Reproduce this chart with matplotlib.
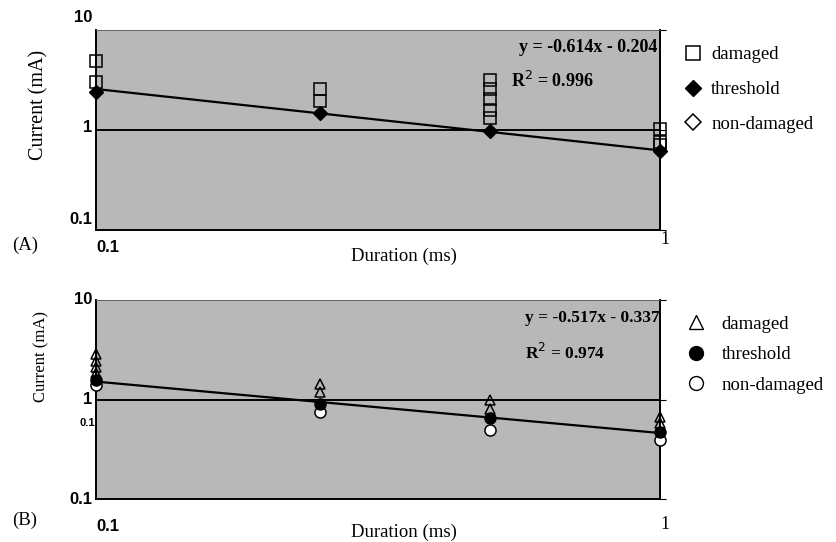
import matplotlib
matplotlib.use('Agg')
import numpy as np
import matplotlib.pyplot as plt
from matplotlib.lines import Line2D
import matplotlib.transforms as mtrans

SERIF = 'Liberation Serif'
SANS = 'Liberation Sans'
BG = '#b8b8b8'

# panel A (square / diamond markers)
a_dmg_x = [0.1, 0.1, 0.25, 0.25, 0.5, 0.5, 0.5, 0.5, 0.5, 1.0, 1.0, 1.0]
a_dmg_y = [4.9, 3.0, 2.55, 1.95, 3.16, 2.55, 2.03, 1.58, 1.31, 1.02, 0.76, 0.71]
a_thr_x = [0.1, 0.25, 0.5, 1.0]
a_thr_y = [2.4, 1.47, 0.97, 0.62]
a_non_x = []
a_non_y = []
a_fit = (-0.614, -0.204, 0.996)

# panel B (triangle / circle markers)
b_dmg_x = [0.1, 0.1, 0.1, 0.1, 0.25, 0.25, 0.5, 0.5, 1.0, 1.0]
b_dmg_y = [2.88, 2.45, 2.1, 1.85, 1.44, 1.19, 1.0, 0.81, 0.67, 0.58]
b_thr_x = [0.1, 0.25, 0.5, 1.0]
b_thr_y = [1.56, 0.91, 0.645, 0.47]
b_non_x = [0.1, 0.25, 0.5, 1.0]
b_non_y = [1.39, 0.75, 0.49, 0.39]
b_fit = (-0.517, -0.337, 0.974)

labels = ['damaged', 'threshold', 'non-damaged']
y_ticks = [10, 1, 0.1]
y_tick_txt = ['10', '1', '0.1']


def fit_line(ax, slope, icpt):
    # trend line from the printed regression, log10(I) = a*log10(t) + b
    t = np.array([0.1, 1.0])
    ax.plot(t, 10 ** (slope * np.log10(t) + icpt), color='black', lw=1.6, zorder=3)


def setup_axes(ax, ylab_size, ylab_pos, xlab_y, ytick_shift, xtick_y):
    ax.set_xscale('log')
    ax.set_yscale('log')
    ax.set_xlim(0.1, 1)
    ax.set_ylim(0.1, 10)
    ax.set_facecolor(BG)
    ax.minorticks_off()
    ax.set_xticks([])
    ax.set_yticks([0.1, 1, 10], ['', '', ''])
    ax.tick_params(axis='y', which='both', right=True, left=False, direction='out', length=4)
    for s in ['left', 'right', 'bottom']:
        ax.spines[s].set_linewidth(1.4)
    ax.spines['top'].set_linewidth(0.6)
    ax.spines['top'].set_color('#555555')
    ax.axhline(1, color='black', lw=1.4, zorder=2)

    ax.set_ylabel('Current (mA)', family=SERIF, fontsize=ylab_size)
    ax.yaxis.set_label_coords(*ylab_pos)
    ax.set_xlabel('Duration (ms)', family=SERIF, fontsize=13.5)
    ax.xaxis.set_label_coords(0.546, xlab_y)

    ytrans = ax.get_yaxis_transform()
    for v, txt, sh in zip(y_ticks, y_tick_txt, ytick_shift):
        off = mtrans.ScaledTranslation(-4 / 100, sh / 100, ax.figure.dpi_scale_trans)
        ax.text(0, v, txt, transform=ytrans + off, ha='right', va='center',
                family=SANS, fontweight='bold', fontsize=12)
    xtrans = ax.get_xaxis_transform()
    ax.text(0.1, xtick_y[0], '0.1', transform=xtrans, ha='left', va='center',
            family=SANS, fontweight='bold', fontsize=12)
    ax.text(1.0, xtick_y[1], '1', transform=xtrans, ha='left', va='center',
            family=SERIF, fontsize=13)


fig = plt.figure(figsize=(8.37, 5.42), dpi=100)
ax1 = fig.add_axes([96 / 837, 1 - 230 / 542, 564 / 837, 200 / 542])
ax2 = fig.add_axes([96 / 837, 1 - 499 / 542, 564 / 837, 199 / 542])

# ---- panel A
setup_axes(ax1, 14.5, (-0.085, 0.625), -0.09, [12, 3, 11], [-0.085, -0.05])
fit_line(ax1, a_fit[0], a_fit[1])
ax1.plot(a_dmg_x, a_dmg_y, 's', ms=8, mfc='none', mec='black', mew=1.1, clip_on=False, zorder=4)
ax1.plot(a_thr_x, a_thr_y, 'D', ms=7, color='black', clip_on=False, zorder=5)
ax1.plot(a_non_x, a_non_y, 'D', ms=7, mfc='none', mec='black', clip_on=False, zorder=4)
ax1.text(0.995, 0.915, f'y = {a_fit[0]}x - {abs(a_fit[1])}', transform=ax1.transAxes,
         ha='right', va='center', family=SERIF, fontweight='bold', fontsize=13)
ax1.text(0.735, 0.745, f'R$^2$ = {a_fit[2]}', transform=ax1.transAxes,
         ha='left', va='center', family=SERIF, fontweight='bold', fontsize=13)
hA = [Line2D([], [], ls='none', marker='s', ms=10, mfc='none', mec='black', mew=1.1),
      Line2D([], [], ls='none', marker='D', ms=8.5, color='black'),
      Line2D([], [], ls='none', marker='D', ms=8.5, mfc='none', mec='black', mew=1.1)]
ax1.legend(hA, labels, loc='upper left', bbox_to_anchor=(1.044, 0.92), frameon=False,
           prop={'family': SERIF, 'size': 13.5}, handlelength=0.9, handletextpad=0.5,
           labelspacing=0.95, borderpad=0, borderaxespad=0)
fig.text(12 / 837, 1 - 245 / 542, '(A)', family=SERIF, fontsize=13.5, va='center')

# ---- panel B
setup_axes(ax2, 12, (-0.082, 0.714), -0.126, [0, 0, 0], [-0.14, -0.13])
fit_line(ax2, b_fit[0], b_fit[1])
ax2.plot(b_dmg_x, b_dmg_y, '^', ms=7.5, mfc='none', mec='black', mew=1.1, clip_on=False, zorder=4)
ax2.plot(b_non_x, b_non_y, 'o', ms=8, mfc='white', mec='black', mew=1.1, clip_on=False, zorder=4)
ax2.plot(b_thr_x, b_thr_y, 'o', ms=8, color='black', clip_on=False, zorder=5)
ax2.text(0.76, 0.91, f'y = {b_fit[0]}x - {abs(b_fit[1])}', transform=ax2.transAxes,
         ha='left', va='center', family=SERIF, fontweight='bold', fontsize=12.5)
ax2.text(0.76, 0.735, f'R$^2$ = {b_fit[2]}', transform=ax2.transAxes,
         ha='left', va='center', family=SERIF, fontweight='bold', fontsize=12.5)
# stray duplicate label left over in the scan
ax2.text(-0.002, 0.38, '0.1', transform=ax2.transAxes, ha='right', va='center',
         family=SANS, fontweight='bold', fontsize=8)
hB = [Line2D([], [], ls='none', marker='^', ms=10, mfc='none', mec='black', mew=1.0),
      Line2D([], [], ls='none', marker='o', ms=10, color='black'),
      Line2D([], [], ls='none', marker='o', ms=10, mfc='white', mec='black', mew=1.0)]
ax2.legend(hB, labels, loc='upper left', bbox_to_anchor=(1.049, 0.92), frameon=False,
           prop={'family': SERIF, 'size': 13.5}, handlelength=0.9, handletextpad=0.9,
           labelspacing=0.7, borderpad=0, borderaxespad=0)
fig.text(12 / 837, 1 - 520 / 542, '(B)', family=SERIF, fontsize=13.5, va='center')

plt.savefig('out.png', dpi=100)
